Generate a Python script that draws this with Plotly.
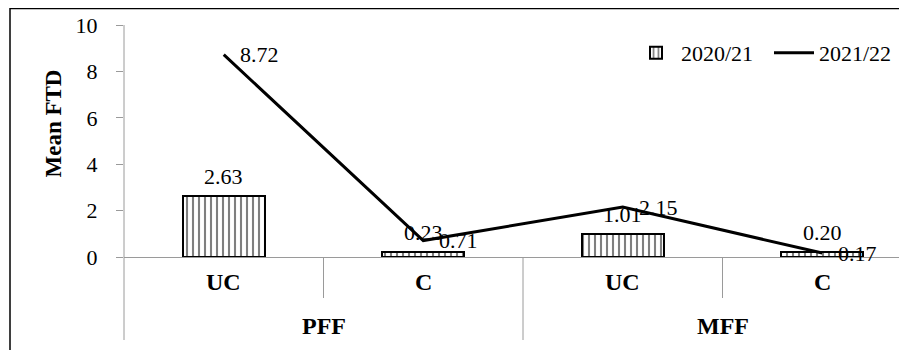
import plotly.graph_objects as go

# ---- data ----
categories = ["UC", "C", "UC", "C"]
groups = ["PFF", "MFF"]
series_2020_21 = [2.63, 0.23, 1.01, 0.20]
series_2021_22 = [8.72, 0.71, 2.15, 0.17]
y_ticks = [0, 2, 4, 6, 8, 10]
y_title = "Mean FTD"
name_bar = "2020/21"
name_line = "2021/22"

FONT = "Times New Roman, Liberation Serif, serif"
FS = 22      # regular text size
FB = 24      # bold label size
OFF = 8  # page body margin in the browser
W, H = 907 - OFF, 350 - OFF
ML, MR, MT, MB = 124 - OFF, 0, 25 - OFF, 350 - 257
PW, PH = W - ML - MR, H - MT - MB
CAT_PX = 199.5

def py(pix):  # screen pixel y -> paper y
    return (257 - pix) / PH

def px(pix):  # screen pixel x -> paper x
    return (pix - 124) / PW

x_idx = list(range(len(categories)))

fig = go.Figure()
fig.add_trace(go.Bar(
    x=x_idx, y=series_2020_21, name=name_bar, width=0.41,
    marker=dict(color="white",
                line=dict(color="black", width=2),
                pattern=dict(shape="|", size=6, solidity=0.35,
                             fgcolor="black", bgcolor="white")),
))
fig.add_trace(go.Scatter(
    x=x_idx, y=series_2021_22, name=name_line, mode="lines",
    line=dict(color="black", width=3),
))

ann = []
for i, v in enumerate(series_2020_21):
    ann.append(dict(x=i, y=v, xref="x", yref="y", text=f"{v:.2f}",
                    showarrow=False, yanchor="bottom", yshift=5,
                    font=dict(family=FONT, size=FS, color="black")))
for i, v in enumerate(series_2021_22):
    ann.append(dict(x=i, y=v, xref="x", yref="y", text=f"{v:.2f}",
                    showarrow=False, xanchor="left", yanchor="middle", xshift=14,
                    font=dict(family=FONT, size=FS, color="black")))
for i, c in enumerate(categories):
    ann.append(dict(x=i, y=py(282), xref="x", yref="paper", text=f"<b>{c}</b>",
                    showarrow=False, yanchor="middle",
                    font=dict(family=FONT, size=FB, color="black")))
n_per = len(categories) // len(groups)
for g, name in enumerate(groups):
    ann.append(dict(x=g * n_per + (n_per - 1) / 2, y=py(326), xref="x", yref="paper",
                    text=f"<b>{name}</b>", showarrow=False, yanchor="middle",
                    font=dict(family=FONT, size=FB, color="black")))
ann.append(dict(x=px(38), y=py(180), xref="paper", yref="paper",
                text=f"<b>{y_title}</b>", textangle=-90, showarrow=False,
                font=dict(family=FONT, size=23, color="black")))

shapes = []
shapes.append(dict(type="rect", xref="paper", yref="paper",
                   x0=px(10), x1=px(960), y0=py(400), y1=py(8.6),
                   line=dict(color="black", width=1.5), fillcolor="rgba(0,0,0,0)",
                   layer="below"))
shapes.append(dict(type="line", xref="paper", yref="paper",
                   x0=0, x1=0, y0=py(340), y1=1,
                   line=dict(color="#9a9a9a", width=1)))
for k in range(1, len(categories)):
    long = (k % n_per == 0)
    shapes.append(dict(type="line", xref="x", yref="paper",
                       x0=k - 0.5, x1=k - 0.5, y0=py(340 if long else 298), y1=0,
                       line=dict(color="#9a9a9a", width=1)))

fig.update_layout(
    width=W, height=H,
    margin=dict(l=ML, r=MR, t=MT, b=MB, pad=0, autoexpand=False),
    paper_bgcolor="white", plot_bgcolor="white",
    font=dict(family=FONT, size=FS, color="black"),
    showlegend=True,
    legend=dict(orientation="h", x=1, xanchor="right", y=py(53), yanchor="middle",
                font=dict(family=FONT, size=FS, color="black"),
                bgcolor="rgba(0,0,0,0)", itemwidth=40, traceorder="normal",
                entrywidth=83),
    annotations=ann, shapes=shapes,
    bargap=0,
)
fig.update_xaxes(range=[-0.5, -0.5 + PW / CAT_PX], showticklabels=False, ticks="",
                 showline=True, linecolor="#9a9a9a", linewidth=1,
                 showgrid=False, zeroline=False, fixedrange=True)
fig.update_yaxes(range=[0, 10], tickvals=y_ticks, ticks="outside", ticklen=7,
                 tickcolor="#9a9a9a", showline=False, showgrid=False, zeroline=False,
                 ticklabelstandoff=14, tickfont=dict(family=FONT, size=FS, color="black"))

fig.write_html("out.html")
